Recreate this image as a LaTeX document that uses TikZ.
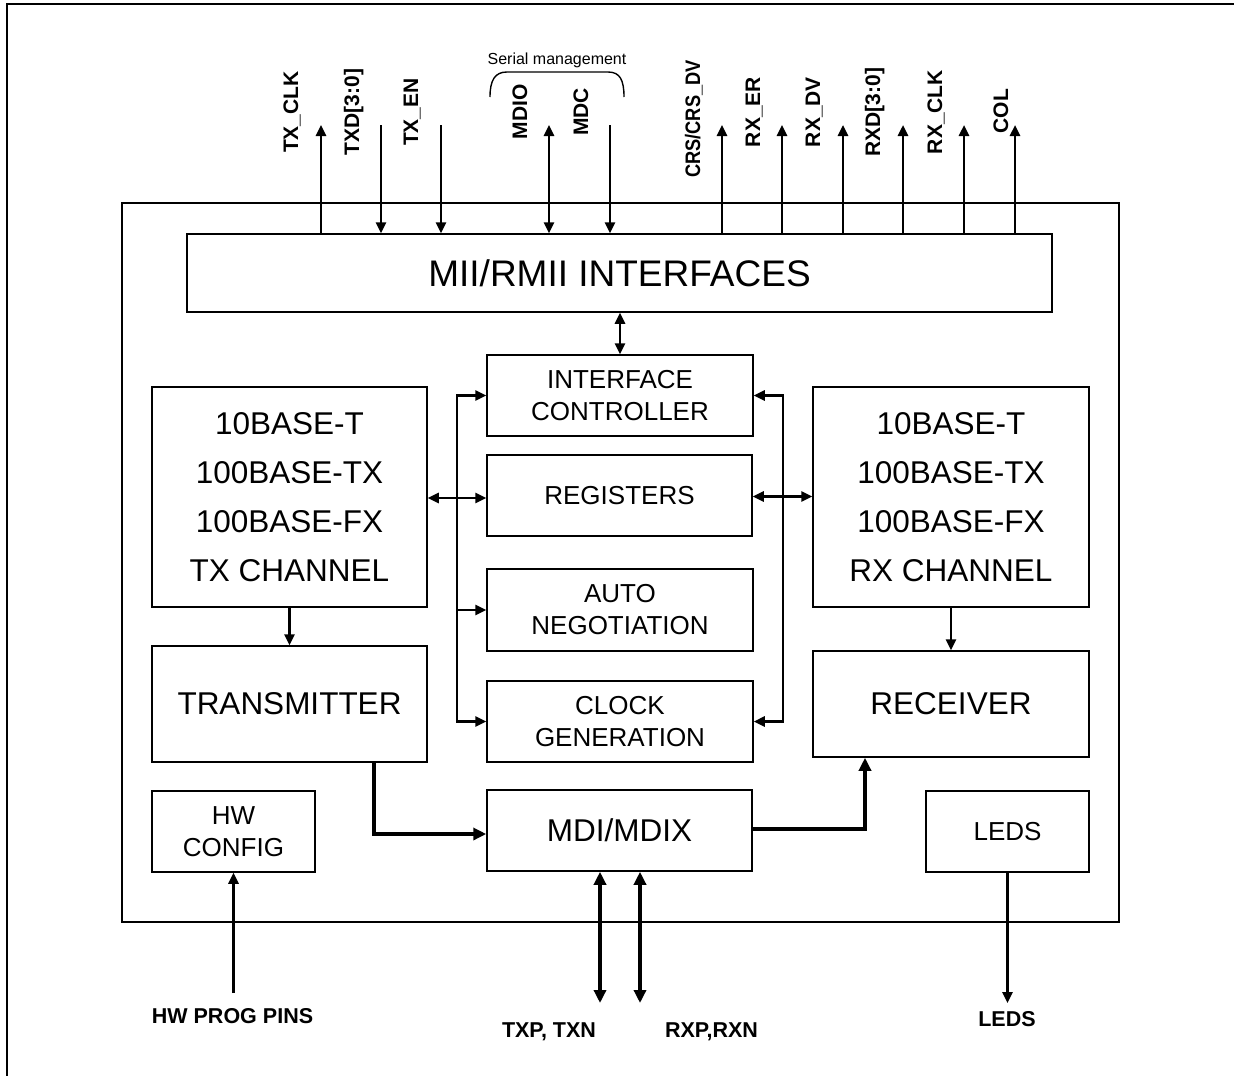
\documentclass[tikz,border=0pt]{standalone}
\usepackage{fontspec}
\setmainfont{Liberation Sans}
\usetikzlibrary{arrows.meta}
\begin{document}
\begin{tikzpicture}[x=1pt,y=-1pt,
  blk/.style={draw, line width=1.5pt, inner sep=0pt, align=center},
  sm/.style={font=\fontsize{26}{32}\selectfont},
  lg/.style={font=\fontsize{31.5}{49}\selectfont},
  pinlab/.style={font=\bfseries\fontsize{21}{25}\selectfont, inner sep=0pt, anchor=base, rotate=90},
  botlab/.style={font=\bfseries\fontsize{21.5}{25}\selectfont, inner sep=0pt, anchor=base},
  conn/.style={line width=2.5pt, >={Triangle[length=11pt,width=10pt]}},
  heavy/.style={line width=4.5pt, >={Triangle[length=13pt,width=12pt]}},
  frame/.style={line width=2.4pt}
]
\useasboundingbox (0,0) rectangle (1234,1076);
% outer frame (top and left edges)
\draw[line width=2.5pt] (7,1076) -- (7,4) -- (1234,4);
% chip outline
\draw[frame] (122,203) rectangle (1119,922);

% blocks
\node[blk, font=\fontsize{37}{44}\selectfont, minimum width=865pt, minimum height=78pt] (mii) at (619.5,273) {MII/RMII INTERFACES};
\node[blk, sm, minimum width=266pt, minimum height=81pt] (ic) at (620,395.5) {INTERFACE\\CONTROLLER};
\node[blk, sm, minimum width=265pt, minimum height=81pt] (reg) at (619.5,495.5) {REGISTERS};
\node[blk, sm, minimum width=266pt, minimum height=82pt] (auto) at (620,610) {AUTO\\NEGOTIATION};
\node[blk, sm, minimum width=266pt, minimum height=81pt] (clk) at (620,721.5) {CLOCK\\GENERATION};
\node[blk, lg, minimum width=265pt, minimum height=81pt] (mdi) at (619.5,830.5) {MDI/MDIX};
\node[blk, lg, minimum width=275pt, minimum height=220pt] (txc) at (289.5,497) {10BASE-T\\100BASE-TX\\100BASE-FX\\TX CHANNEL};
\node[blk, lg, minimum width=276pt, minimum height=220pt] (rxc) at (951,497) {10BASE-T\\100BASE-TX\\100BASE-FX\\RX CHANNEL};
\node[blk, lg, minimum width=275pt, minimum height=116pt] (tx) at (289.5,704) {TRANSMITTER};
\node[blk, lg, minimum width=276pt, minimum height=106pt] (rx) at (951,704) {RECEIVER};
\node[blk, sm, minimum width=163pt, minimum height=81pt] (hw) at (233.5,831.5) {HW\\CONFIG};
\node[blk, sm, minimum width=163pt, minimum height=81pt] (leds) at (1007.5,831.5) {LEDS};

% top pins
\coordinate (p1) at (321,125);
\coordinate (p2) at (381,125);
\coordinate (p3) at (441,125);
\coordinate (p4) at (549,125);
\coordinate (p5) at (610,125);
\coordinate (p6) at (722,125);
\coordinate (p7) at (782,125);
\coordinate (p8) at (843,125);
\coordinate (p9) at (903,125);
\coordinate (p10) at (964,125);
\coordinate (p11) at (1015,125);
\draw[conn,->] (mii.north -| p1) -- (p1);
\draw[conn,<-] (mii.north -| p2) -- (p2);
\draw[conn,<-] (mii.north -| p3) -- (p3);
\draw[conn,<->] (mii.north -| p4) -- (p4);
\draw[conn,<-] (mii.north -| p5) -- (p5);
\draw[conn,->] (mii.north -| p6) -- (p6);
\draw[conn,->] (mii.north -| p7) -- (p7);
\draw[conn,->] (mii.north -| p8) -- (p8);
\draw[conn,->] (mii.north -| p9) -- (p9);
\draw[conn,->] (mii.north -| p10) -- (p10);
\draw[conn,->] (mii.north -| p11) -- (p11);

\node[pinlab] (l1) at (298,112) {TX\_CLK};
\node[pinlab] (l2) at (359,112) {TXD[3:0]};
\node[pinlab] (l3) at (418,112) {TX\_EN};
\node[pinlab] (l4) at (527,112) {MDIO};
\node[pinlab] (l5) at (588,112) {MDC};
\node[pinlab] (l6) at (700,119) {\scalebox{0.87}[1]{CRS/CRS\_DV}};
\node[pinlab] (l7) at (760,112) {RX\_ER};
\node[pinlab] (l8) at (820,112) {RX\_DV};
\node[pinlab] (l9) at (880,112) {RXD[3:0]};
\node[pinlab] (l10) at (942,112) {RX\_CLK};
\node[pinlab] (l11) at (1008,111) {COL};

% serial management bracket
\node[font=\fontsize{16}{19}\selectfont, inner sep=0pt, anchor=base] (serial) at (557,64) {Serial management};
\draw[line width=1.4pt] (490,97) .. controls (490,80) and (495,72) .. (507,72) -- (608,72) .. controls (620,72) and (624,80) .. (624,97);

% internal connections
\draw[conn,<->] (mii.south -| ic.north) -- (ic.north);
\coordinate (lbus) at (457,0);
\coordinate (rbus) at (783,0);
\draw[conn,<->] (ic.west) -- (ic.west -| lbus) |- (clk.west);
\draw[conn,->] (auto.west -| lbus) -- (auto.west);
\draw[conn,<->] ([yshift=-1pt]txc.east) -- ([yshift=-1pt]txc.east -| reg.west);
\draw[conn,<->] (ic.east) -- (ic.east -| rbus) |- (clk.east);
\draw[conn,<->] ([yshift=-1pt]reg.east) -- ([yshift=-1pt]reg.east -| rxc.west);
\draw[conn,->] (txc.south) -- (tx.north);
\draw[conn,->] (rxc.south) -- (rx.north);

\draw[heavy,->] ([xshift=84.5pt]tx.south) |- ([yshift=-3.5pt]mdi.west);
\draw[heavy,->] ([yshift=1.5pt]mdi.east) -| ([xshift=-86pt]rx.south);

% bottom pins
\coordinate (hwpin) at (233.5,993);
\coordinate (txpin) at (600,1003);
\coordinate (rxpin) at (640,1003);
\coordinate (ledpin) at (1007.5,1003);
\draw[conn,->] (hwpin) -- (hw.south);
\draw[heavy,<->] (mdi.south -| txpin) -- (txpin);
\draw[heavy,<->] (mdi.south -| rxpin) -- (rxpin);
\draw[conn,->] (leds.south) -- (ledpin);

\node[botlab] (hwlab) at (232.5,1023) {HW PROG PINS};
\node[botlab] (txlab) at (549,1037) {TXP, TXN};
\node[botlab] (rxlab) at (711.5,1037) {RXP,RXN};
\node[botlab] (ledlab) at (1007,1026) {LEDS};
\end{tikzpicture}
\end{document}
